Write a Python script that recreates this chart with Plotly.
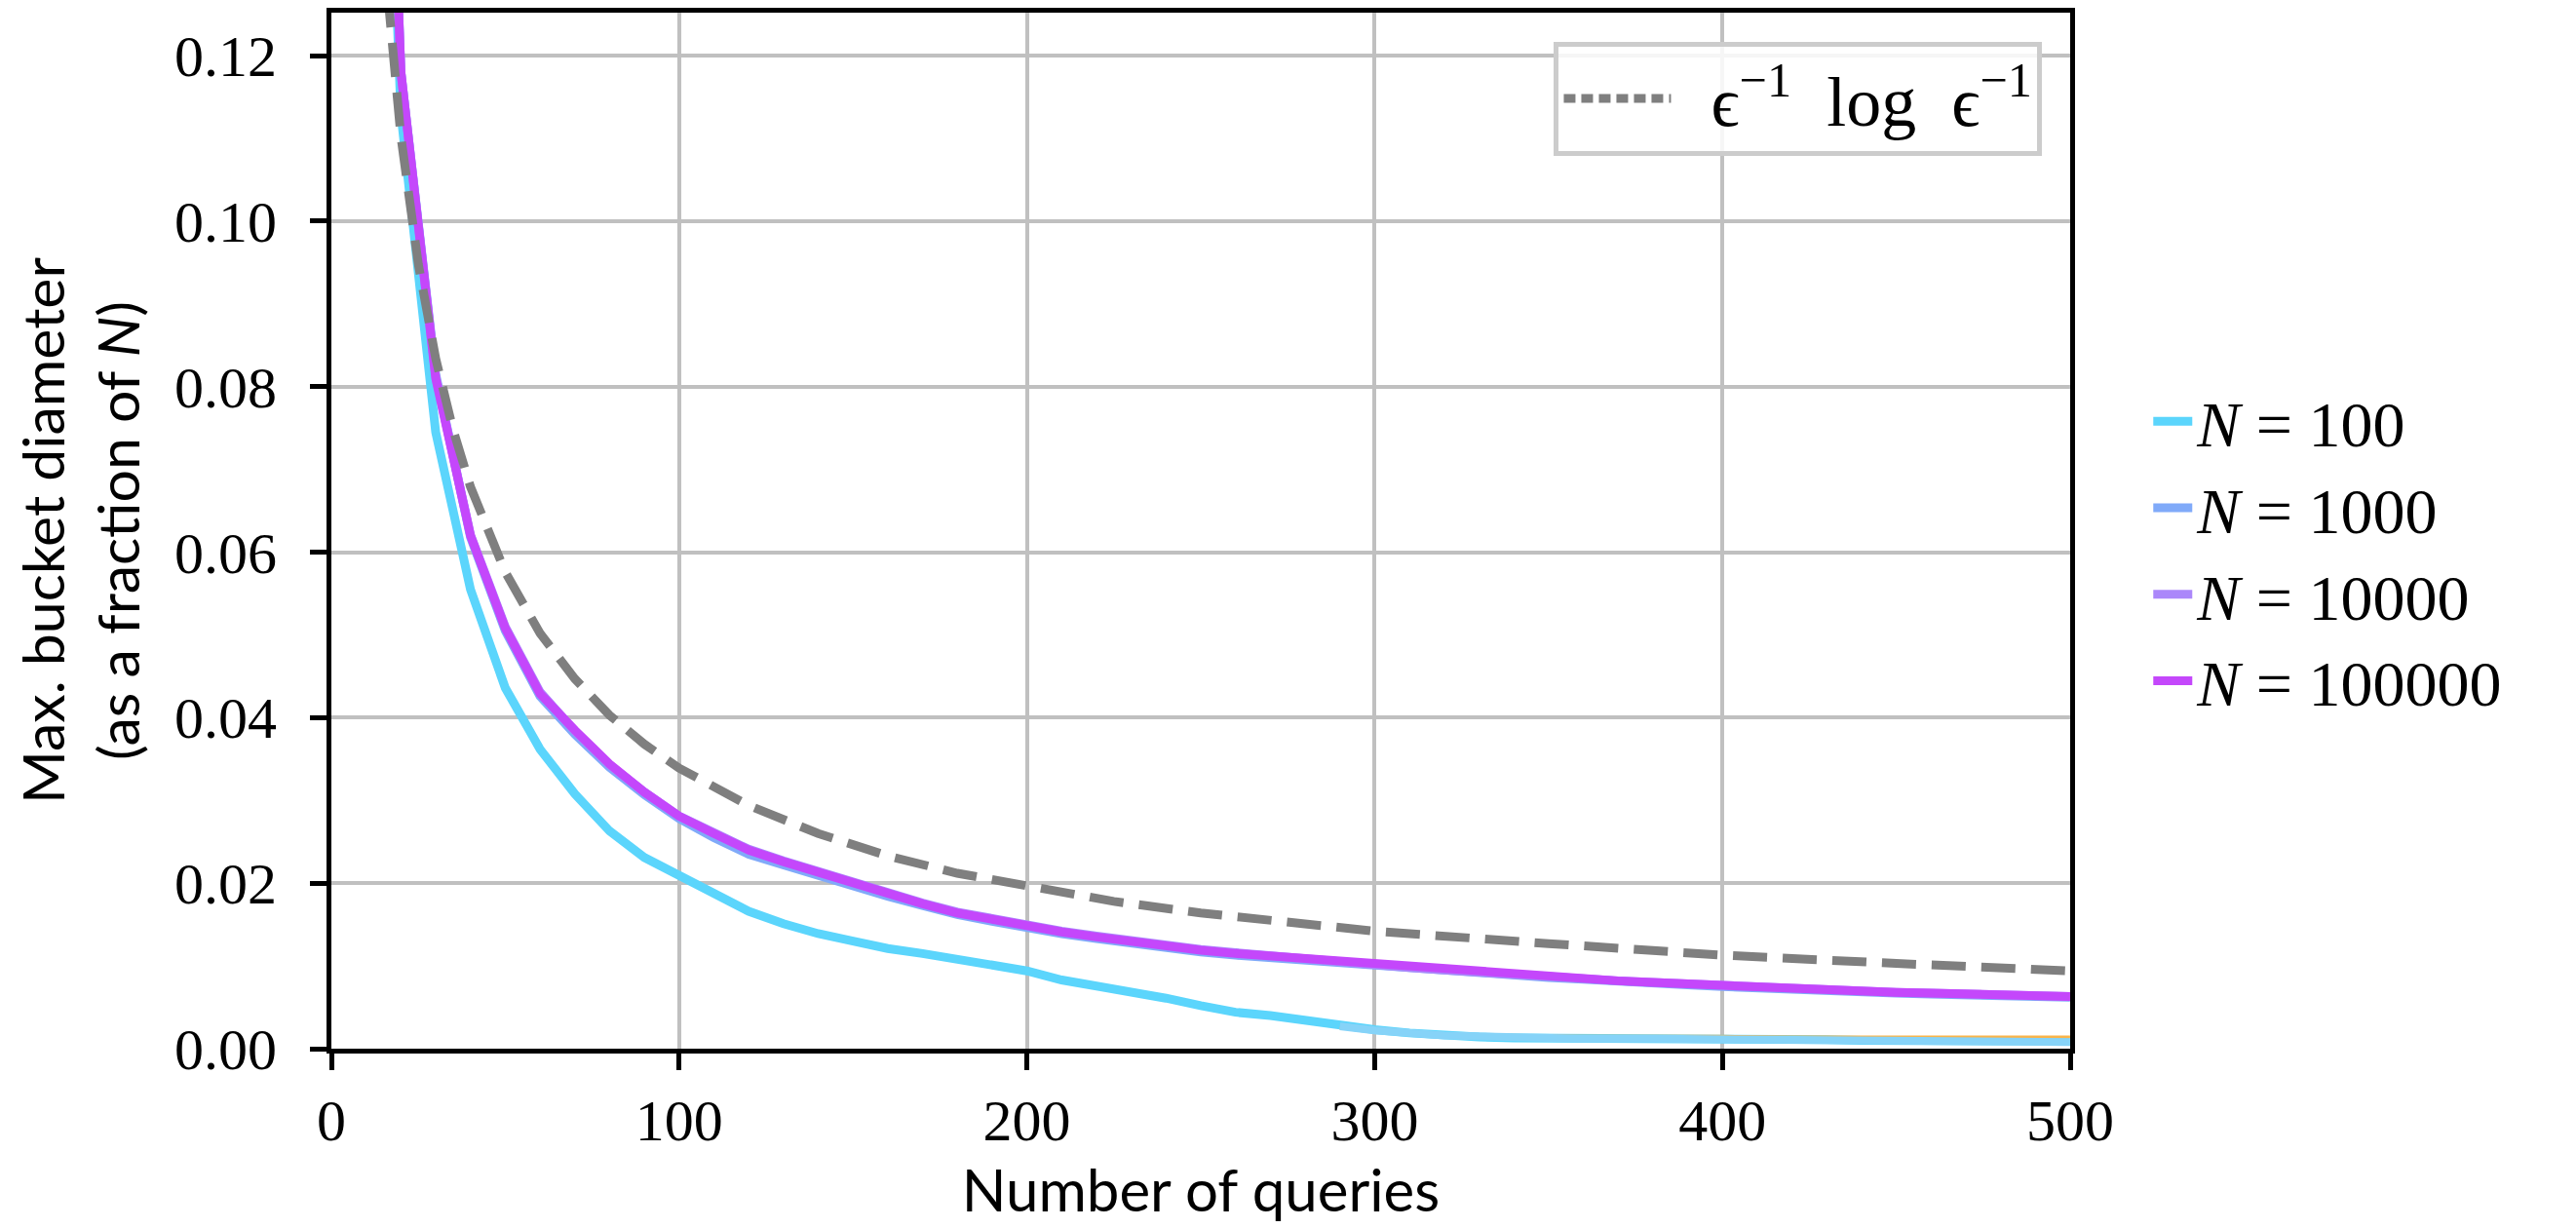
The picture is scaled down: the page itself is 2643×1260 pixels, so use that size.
import plotly.graph_objects as go

queries = [10, 20, 30, 40, 50, 60, 70, 80, 90, 100,
           110, 120, 130, 140, 150, 160, 170, 180, 190, 200,
           210, 220, 230, 240, 250, 260, 270, 280, 290, 300,
           310, 320, 330, 340, 350, 360, 370, 380, 390, 400,
           410, 420, 430, 440, 450, 460, 470, 480, 490, 500]

n100 = [0.220, 0.113, 0.0745, 0.0555, 0.0436, 0.0362, 0.0308, 0.0263, 0.0231, 0.0209,
        0.0187, 0.0166, 0.0151, 0.0139, 0.0130, 0.0121, 0.0115, 0.0108, 0.0101, 0.0094,
        0.0083, 0.0076, 0.0070, 0.0061, 0.0052, 0.0044, 0.0040, 0.0034, 0.0028, 0.0023,
        0.0019, 0.0016, 0.0014, 0.0013, 0.0013, 0.0012, 0.0012, 0.0012, 0.0012, 0.0012,
        0.0011, 0.0011, 0.0011, 0.0010, 0.0010, 0.0010, 0.0010, 0.0009, 0.0009, 0.0009]

n1000 = [0.232, 0.118, 0.0815, 0.0618, 0.0505, 0.0426, 0.0380, 0.0340, 0.0307, 0.0278,
         0.0255, 0.0235, 0.0222, 0.0209, 0.0196, 0.0184, 0.0173, 0.0162, 0.0154, 0.0146,
         0.0139, 0.0133, 0.0127, 0.0122, 0.0117, 0.0113, 0.0110, 0.0106, 0.0102, 0.0099,
         0.0096, 0.0093, 0.0090, 0.0088, 0.0086, 0.0084, 0.0081, 0.0079, 0.0077, 0.0075,
         0.0073, 0.0072, 0.0070, 0.0069, 0.0067, 0.0066, 0.0065, 0.0064, 0.0063, 0.0062]

n10000 = [0.231, 0.118, 0.0812, 0.0621, 0.0510, 0.0431, 0.0384, 0.0343, 0.0310, 0.0281,
          0.0261, 0.0241, 0.0227, 0.0214, 0.0200, 0.0188, 0.0176, 0.0165, 0.0157, 0.0149,
          0.0142, 0.0136, 0.0130, 0.0125, 0.0120, 0.0116, 0.0112, 0.0108, 0.0104, 0.0101,
          0.0098, 0.0095, 0.0092, 0.0089, 0.0087, 0.0085, 0.0082, 0.0080, 0.0078, 0.0076,
          0.0074, 0.0073, 0.0071, 0.0070, 0.0068, 0.0067, 0.0066, 0.0065, 0.0064, 0.0063]

n100000 = [0.230, 0.118, 0.0810, 0.0620, 0.0508, 0.0429, 0.0385, 0.0344, 0.0310, 0.0281,
           0.0260, 0.0240, 0.0226, 0.0213, 0.0199, 0.0187, 0.0175, 0.0164, 0.0156, 0.0148,
           0.0141, 0.0135, 0.0129, 0.0124, 0.0119, 0.0115, 0.0112, 0.0108, 0.0104, 0.0101,
           0.0098, 0.0095, 0.0092, 0.0089, 0.0087, 0.0085, 0.0082, 0.0080, 0.0078, 0.0076,
           0.0074, 0.0073, 0.0071, 0.0070, 0.0068, 0.0067, 0.0066, 0.0065, 0.0064, 0.0063]

# faint unlabelled series near zero
extra_q = [290, 300, 320, 340, 360, 380, 400, 420, 440, 460, 480, 500]
extra_blue = [0.0027, 0.0022, 0.0016, 0.0013, 0.0012, 0.0012, 0.0011, 0.0010, 0.0009, 0.0009, 0.0008, 0.0008]
extra_orange = [0.0025, 0.0021, 0.0017, 0.0016, 0.0015, 0.0015, 0.0015, 0.0014, 0.0014, 0.0014, 0.0014, 0.0014]

bound_q = [10, 15, 20, 25, 30, 35, 40, 50, 60, 70, 80, 90, 100, 120, 140, 160,
           180, 200, 225, 250, 275, 300, 350, 400, 450, 500]
bound_v = [0.1695, 0.1329, 0.1102, 0.0948, 0.0834, 0.0748, 0.0679, 0.0576, 0.0502,
           0.0447, 0.0403, 0.0368, 0.0339, 0.0294, 0.0260, 0.0233, 0.0212, 0.0196,
           0.0178, 0.0164, 0.0152, 0.0142, 0.0127, 0.0113, 0.0103, 0.0094]

x_ticks = [0, 100, 200, 300, 400, 500]
y_ticks = [0.00, 0.02, 0.04, 0.06, 0.08, 0.10, 0.12]

series = [
    ("<i>N</i> = 100", n100, "#5bd5fc"),
    ("<i>N</i> = 1000", n1000, "#80aaf9"),
    ("<i>N</i> = 10000", n10000, "#ab87fa"),
    ("<i>N</i> = 100000", n100000, "#c447fb"),
]

SERIF = "Liberation Serif, DejaVu Serif, serif"
SANS = "Lato, DejaVu Sans, sans-serif"
BOUND_NAME = "  ϵ<sup>−1</sup>  log  ϵ<sup>−1</sup>"

fig = go.Figure()

for name, vals, col in series:
    fig.add_trace(go.Scatter(x=queries, y=vals, mode="lines", name=name,
                             line=dict(color=col, width=9), legend="legend"))

fig.add_trace(go.Scatter(x=extra_q, y=extra_orange, mode="lines", showlegend=False,
                         line=dict(color="#f9b44a", width=3)))
fig.add_trace(go.Scatter(x=extra_q, y=extra_blue, mode="lines", showlegend=False,
                         line=dict(color="#86d3f8", width=8)))

fig.add_trace(go.Scatter(x=bound_q, y=bound_v, mode="lines", name=BOUND_NAME,
                         showlegend=False, legendgroup="bound",
                         line=dict(color="#7f7f7f", width=9, dash="35px,16px")))
# legend entry for the bound (shorter dash so the small legend sample shows dashes)
fig.add_trace(go.Scatter(x=[None], y=[None], mode="lines", name=BOUND_NAME,
                         legendgroup="bound", legend="legend2",
                         line=dict(color="#7f7f7f", width=9, dash="12px,6px")))

axis_common = dict(
    showline=True, linecolor="black", linewidth=5, mirror=True,
    ticks="outside", ticklen=17, tickwidth=5, tickcolor="black",
    showgrid=True, gridcolor="#c0c0c0", gridwidth=4,
    zeroline=False, automargin=False,
    tickfont=dict(family=SERIF, size=60, color="black"),
)

fig.update_layout(
    width=2643, height=1260,
    margin=dict(l=332, r=527, t=5, b=192),
    plot_bgcolor="white", paper_bgcolor="white",
    xaxis=dict(range=[0, 500], tickvals=x_ticks, ticktext=[str(v) for v in x_ticks],
               title=dict(text="Number of queries", font=dict(family=SANS, size=60, color="black"),
                          standoff=20),
               **axis_common),
    yaxis=dict(range=[0, 0.1252], tickvals=y_ticks, ticktext=[f"{v:.2f}" for v in y_ticks],
               ticklabelstandoff=22,
               title=dict(text="Max. bucket diameter<br>(as a fraction of <i>N</i>)",
                          font=dict(family=SANS, size=59, color="black"), standoff=62),
               **axis_common),
    legend=dict(x=1.045, y=0.48, xanchor="left", yanchor="middle",
                font=dict(family=SERIF, size=66, color="black"),
                bgcolor="rgba(0,0,0,0)", borderwidth=0, itemwidth=40),
    legend2=dict(x=0.984, y=0.972, xanchor="right", yanchor="top",
                 font=dict(family=SERIF, size=72, color="black"),
                 bgcolor="rgba(255,255,255,0.85)", bordercolor="#cccccc", borderwidth=5,
                 itemwidth=110),
    showlegend=True,
)

fig.write_html("out.html")
